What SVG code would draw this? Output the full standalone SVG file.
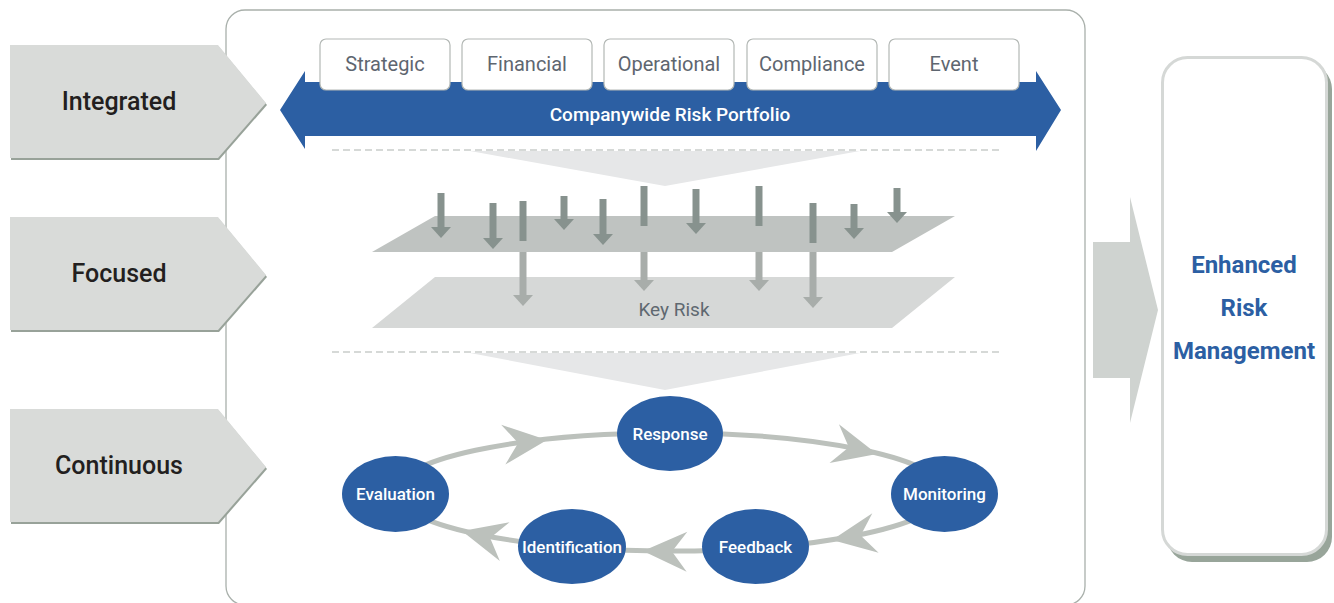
<svg xmlns="http://www.w3.org/2000/svg" width="1334" height="603" viewBox="0 0 1334 603">
  <style>
    text { font-family: Roboto, "Noto Sans", "Liberation Sans", sans-serif; }
    .stage { fill: #d9dbd9; }
    .stage-shadow { fill: #98a299; }
    .stage-label { font-size: 25px; font-weight: 500; fill: #231f20; text-anchor: middle; }
    .tab { fill: #ffffff; stroke: #b3b8b5; stroke-width: 1.2; }
    .tab-label { font-size: 20px; fill: #5e6670; text-anchor: middle; }
    .dash { stroke: #aeb3b0; stroke-width: 1.2; stroke-dasharray: 7 4; fill: none; }
    .funnel { fill: #e6e7e8; }
    .drop-dark { stroke: #87928e; stroke-width: 7; fill: none; }
    .drop-light { stroke: #a8adaa; stroke-width: 7; fill: none; }
    .cycle-node { fill: #2c5fa3; }
    .cycle-label { font-size: 17px; font-weight: 500; fill: #ffffff; text-anchor: middle; }
    .ring { fill: none; stroke: #bcc1bc; stroke-width: 5; }
    .ring-head { fill: #bcc1bc; }
    .result-label { font-size: 24px; font-weight: 700; fill: #2c5fa3; text-anchor: middle; }
  </style>
  <defs>
    <marker id="head-dark" markerUnits="userSpaceOnUse" viewBox="0 -10 11 20" markerWidth="11" markerHeight="20" refX="0" refY="0" orient="auto">
      <path d="M0,-10 L11,0 L0,10 Z" fill="#87928e"/>
    </marker>
    <marker id="head-light" markerUnits="userSpaceOnUse" viewBox="0 -10 11 20" markerWidth="11" markerHeight="20" refX="0" refY="0" orient="auto">
      <path d="M0,-10 L11,0 L0,10 Z" fill="#a8adaa"/>
    </marker>
    <path id="barb" d="M0,0 L-44,-20 L-29,0 L-44,20 Z"/>
    <path id="stage-shape" d="M10,0 H218 L266,58 L218,113 H10 Z"/>
  </defs>

  <!-- outer frame -->
  <rect x="226" y="10" width="859" height="595" rx="19" fill="#ffffff" stroke="#a9b0ab" stroke-width="1.3"/>

  <!-- stage pentagons -->
  <g id="stage-integrated">
    <use href="#stage-shape" class="stage-shadow" transform="translate(1,47)"/>
    <use href="#stage-shape" class="stage" transform="translate(0,45)"/>
    <text class="stage-label" x="119" y="110">Integrated</text>
  </g>
  <g id="stage-focused">
    <use href="#stage-shape" class="stage-shadow" transform="translate(1,219)"/>
    <use href="#stage-shape" class="stage" transform="translate(0,217)"/>
    <text class="stage-label" x="119" y="282">Focused</text>
  </g>
  <g id="stage-continuous">
    <use href="#stage-shape" class="stage-shadow" transform="translate(1,411)"/>
    <use href="#stage-shape" class="stage" transform="translate(0,409)"/>
    <text class="stage-label" x="119" y="474">Continuous</text>
  </g>

  <!-- companywide portfolio band -->
  <g id="portfolio">
    <polygon points="280,110 305,71 305,82 1036,82 1036,71 1061,110 1036,151 1036,136 305,136 305,149" fill="#2c5fa3"/>
    <text x="670" y="121" font-size="19" font-weight="500" fill="#ffffff" text-anchor="middle">Companywide Risk Portfolio</text>
  </g>

  <!-- risk category tabs -->
  <g id="tab-strategic">
    <rect class="tab" x="320" y="39" width="130" height="51" rx="6"/>
    <text class="tab-label" x="385" y="71">Strategic</text>
  </g>
  <g id="tab-financial">
    <rect class="tab" x="462" y="39" width="130" height="51" rx="6"/>
    <text class="tab-label" x="527" y="71">Financial</text>
  </g>
  <g id="tab-operational">
    <rect class="tab" x="604" y="39" width="130" height="51" rx="6"/>
    <text class="tab-label" x="669" y="71">Operational</text>
  </g>
  <g id="tab-compliance">
    <rect class="tab" x="747" y="39" width="130" height="51" rx="6"/>
    <text class="tab-label" x="812" y="71">Compliance</text>
  </g>
  <g id="tab-event">
    <rect class="tab" x="889" y="39" width="130" height="51" rx="6"/>
    <text class="tab-label" x="954" y="71">Event</text>
  </g>

  <!-- separators and funnels -->
  <line class="dash" x1="332" y1="150" x2="1000" y2="150"/>
  <polygon class="funnel" points="470,151 860,151 665,186"/>
  <line class="dash" x1="332" y1="352" x2="1000" y2="352"/>
  <polygon class="funnel" points="470,353 860,353 665,390"/>

  <!-- risk planes -->
  <g id="plane-all">
    <polygon points="435,216 955,216 892,252 372,252" fill="#bfc3c1"/>
  </g>
  <g id="plane-key">
    <polygon points="435,277 955,277 892,328 372,328" fill="#d6d8d7"/>
    <text x="674" y="316" font-size="19" fill="#5f6870" text-anchor="middle">Key Risk</text>
  </g>

  <!-- risk drops -->
  <g id="drops">
    <line class="drop-dark" x1="441" y1="193" x2="441" y2="227" marker-end="url(#head-dark)"/>
    <line class="drop-dark" x1="493" y1="203" x2="493" y2="238" marker-end="url(#head-dark)"/>
    <line class="drop-dark" x1="564" y1="196" x2="564" y2="219" marker-end="url(#head-dark)"/>
    <line class="drop-dark" x1="603" y1="199" x2="603" y2="234" marker-end="url(#head-dark)"/>
    <line class="drop-dark" x1="696" y1="189" x2="696" y2="223" marker-end="url(#head-dark)"/>
    <line class="drop-dark" x1="854" y1="204" x2="854" y2="228" marker-end="url(#head-dark)"/>
    <line class="drop-dark" x1="897" y1="188" x2="897" y2="212" marker-end="url(#head-dark)"/>

    <line class="drop-dark" x1="523" y1="201" x2="523" y2="241"/>
    <line class="drop-light" x1="523" y1="252" x2="523" y2="295" marker-end="url(#head-light)"/>
    <line class="drop-dark" x1="644" y1="186" x2="644" y2="226"/>
    <line class="drop-light" x1="644" y1="252" x2="644" y2="280" marker-end="url(#head-light)"/>
    <line class="drop-dark" x1="759" y1="186" x2="759" y2="226"/>
    <line class="drop-light" x1="759" y1="252" x2="759" y2="280" marker-end="url(#head-light)"/>
    <line class="drop-dark" x1="813" y1="203" x2="813" y2="243"/>
    <line class="drop-light" x1="813" y1="252" x2="813" y2="297" marker-end="url(#head-light)"/>
  </g>

  <!-- continuous cycle connectors -->
  <g id="cycle-connectors">
    <ellipse class="ring" cx="670" cy="492" rx="275" ry="59"/>
    <use href="#barb" class="ring-head" transform="translate(547,440) rotate(-6)"/>
    <use href="#barb" class="ring-head" transform="translate(877,454) rotate(13.6)"/>
    <use href="#barb" class="ring-head" transform="translate(832,540) rotate(171)"/>
    <use href="#barb" class="ring-head" transform="translate(643,551) rotate(181)"/>
    <use href="#barb" class="ring-head" transform="translate(462,531) rotate(194)"/>
  </g>

  <g id="node-response">
    <ellipse class="cycle-node" cx="670" cy="433.5" rx="53" ry="37.5"/>
    <text class="cycle-label" x="670" y="439.5">Response</text>
  </g>
  <g id="node-monitoring">
    <ellipse class="cycle-node" cx="944.5" cy="494" rx="53.5" ry="38"/>
    <text class="cycle-label" x="944.5" y="500">Monitoring</text>
  </g>
  <g id="node-feedback">
    <ellipse class="cycle-node" cx="755.5" cy="546.5" rx="53.5" ry="37.5"/>
    <text class="cycle-label" x="755.5" y="552.5">Feedback</text>
  </g>
  <g id="node-identification">
    <ellipse class="cycle-node" cx="572" cy="546.5" rx="54" ry="37.5"/>
    <text class="cycle-label" x="572" y="552.5">Identification</text>
  </g>
  <g id="node-evaluation">
    <ellipse class="cycle-node" cx="395.5" cy="494" rx="53.5" ry="38"/>
    <text class="cycle-label" x="395.5" y="500">Evaluation</text>
  </g>

  <!-- outcome -->
  <g id="outcome-arrow">
    <polygon points="1093,242 1130,242 1130,197 1158,310 1130,423 1130,378 1093,378" fill="#cfd3d0"/>
  </g>
  <g id="outcome">
    <rect x="1167" y="64" width="165" height="498" rx="25" fill="#98a59a"/>
    <rect x="1162.5" y="57.5" width="164" height="497" rx="25" fill="#ffffff" stroke="#d5d8d6" stroke-width="3"/>
    <text class="result-label" x="1244" y="273">Enhanced</text>
    <text class="result-label" x="1244" y="316">Risk</text>
    <text class="result-label" x="1244" y="359">Management</text>
  </g>
</svg>
